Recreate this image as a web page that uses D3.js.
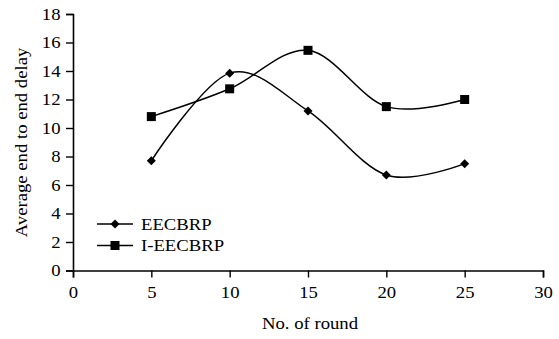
<!DOCTYPE html>
<html><head><meta charset="utf-8">
<script src="https://cdn.jsdelivr.net/npm/d3@7"></script>
<style>body{margin:0;background:#fff}svg{display:block}</style>
</head><body>
<svg id="c" width="559" height="339"></svg>
<script>
const rounds = [5, 10, 15, 20, 25];
const eecbrp = [7.7, 13.85, 11.2, 6.7, 7.5];
const ieecbrp = [10.8, 12.75, 15.45, 11.5, 12.0];
const xTicks = [0, 5, 10, 15, 20, 25, 30];
const yTicks = [0, 2, 4, 6, 8, 10, 12, 14, 16, 18];
const seriesNames = ["EECBRP", "I-EECBRP"];

const FS = 17, FF = "Liberation Serif", SX = 1.1;
const svg = d3.select("#c");
const x = d3.scaleLinear().domain([0, 30]).range([73, 543]);
const y = d3.scaleLinear().domain([0, 18]).range([270.5, 14]);

const xa = svg.append("g").attr("transform", `translate(0,${y(0)})`)
  .call(d3.axisBottom(x).tickValues(xTicks).tickSize(7).tickPadding(8.5).tickFormat(d3.format("d")));
const ya = svg.append("g").attr("transform", `translate(${x(0)},0)`)
  .call(d3.axisLeft(y).tickValues(yTicks).tickSize(7).tickPadding(5.5).tickFormat(d3.format("d")));
[xa, ya].forEach(a => {
  a.attr("font-family", FF).attr("font-size", FS);
  a.select(".domain").attr("stroke", "#000").attr("stroke-width", 1.6);
  a.selectAll(".tick line").attr("stroke", "#000").attr("stroke-width", 1.4);
  a.selectAll(".tick text").each(function() {
    const t = d3.select(this);
    const tx = +t.attr("x") || 0, ty = +t.attr("y") || 0;
    t.attr("x", 0).attr("y", 0).attr("fill", "#000")
     .attr("transform", `translate(${tx},${ty}) scale(${SX},1)`);
  });
});

svg.append("text").attr("transform", `translate(310,329) scale(${SX},1)`).attr("text-anchor", "middle")
  .attr("font-family", FF).attr("font-size", FS).text("No. of round");
svg.append("text").attr("transform", `translate(27,142.5) rotate(-90) scale(${SX},1)`).attr("text-anchor", "middle")
  .attr("font-family", FF).attr("font-size", FS).text("Average end to end delay");

const line = d3.line().x(d => x(d[0])).y(d => y(d[1])).curve(d3.curveCatmullRom.alpha(0));
const data = [eecbrp, ieecbrp].map(vals => rounds.map((r, i) => [r, vals[i]]));

const diamond = s => `M0,${-s}L${s},0L0,${s}L${-s},0Z`;
const marker = (g, kind) => {
  if (kind === 0) g.append("path").attr("d", diamond(4.5)).attr("fill", "#000");
  else g.append("rect").attr("x", -4.5).attr("y", -4.5).attr("width", 9).attr("height", 9).attr("fill", "#000");
};

data.forEach((pts, k) => {
  svg.append("path").datum(pts).attr("d", line).attr("fill", "none").attr("stroke", "#000").attr("stroke-width", 1.5);
  pts.forEach(p => {
    const g = svg.append("g").attr("transform", `translate(${x(p[0])},${y(p[1])})`);
    marker(g, k);
  });
});

seriesNames.forEach((n, k) => {
  const ly = 224 + k * 21.5;
  svg.append("line").attr("x1", 97).attr("x2", 133).attr("y1", ly).attr("y2", ly).attr("stroke", "#000").attr("stroke-width", 1.5);
  const g = svg.append("g").attr("transform", `translate(115,${ly})`);
  marker(g, k);
  svg.append("text").attr("transform", `translate(141,${ly + 5.5}) scale(${SX},1)`)
    .attr("font-family", FF).attr("font-size", FS).text(n);
});
</script>
</body></html>
